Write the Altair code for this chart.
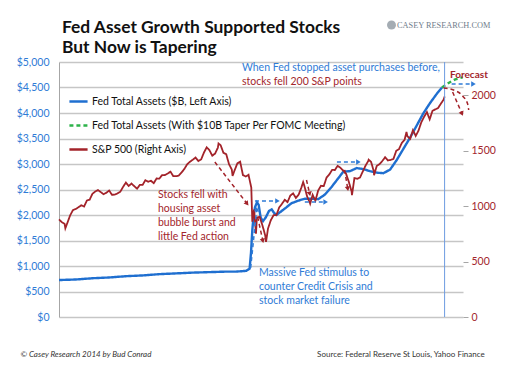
import math
import altair as alt
import pandas as pd

FONT = "Lato"

# ---------------- S&P 500 (right axis), monthly closes + notable extremes ----------------
sp_2003 = [855.7, 841.2, 848.2, 916.9, 963.6, 974.5, 990.3, 1008.0, 996.0, 1050.7, 1058.2, 1111.9]
sp_2004 = [1131.1, 1144.9, 1126.2, 1107.3, 1120.7, 1140.8, 1101.7, 1104.2, 1114.6, 1130.2, 1173.8, 1211.9]
sp_2005 = [1181.3, 1203.6, 1180.6, 1156.9, 1191.5, 1191.3, 1234.2, 1220.3, 1228.8, 1207.0, 1249.5, 1248.3]
sp_2006 = [1280.1, 1280.7, 1294.8, 1310.6, 1270.1, 1270.2, 1276.7, 1303.8, 1335.9, 1377.9, 1400.6, 1418.3]
sp_2007 = [1438.2, 1406.8, 1420.9, 1482.4, 1530.6, 1503.4, 1455.3, 1474.0, 1526.8, 1549.4, 1481.1, 1468.4]
sp_2008 = [1378.6, 1330.6, 1322.7, 1385.6, 1400.4, 1280.0, 1267.4, 1282.8, 1166.4, 968.8, 896.2, 903.3]
sp_2009 = [825.9, 735.1, 797.9, 872.8, 919.1, 919.3, 987.5, 1020.6, 1057.1, 1036.2, 1095.6, 1115.1]
sp_2010 = [1073.9, 1104.5, 1169.4, 1186.7, 1089.4, 1030.7, 1101.6, 1049.3, 1141.2, 1183.3, 1180.6, 1257.6]
sp_2011 = [1286.1, 1327.2, 1325.8, 1363.6, 1345.2, 1320.6, 1292.3, 1219.0, 1131.4, 1253.3, 1247.0, 1257.6]
sp_2012 = [1312.4, 1365.7, 1408.5, 1397.9, 1310.3, 1362.2, 1379.3, 1406.6, 1440.7, 1412.2, 1416.2, 1426.2]
sp_2013 = [1498.1, 1514.7, 1569.2, 1597.6, 1630.7, 1606.3, 1685.7, 1633.0, 1681.6, 1756.5, 1805.8, 1848.4]
sp_2014 = [1782.6, 1859.5, 1872.3, 1884.0, 1923.6, 1960.2]
sp_by_year = [sp_2003, sp_2004, sp_2005, sp_2006, sp_2007, sp_2008,
              sp_2009, sp_2010, sp_2011, sp_2012, sp_2013, sp_2014]
sp_extra_dates = [2003.0, 2003.19, 2007.77, 2008.19, 2008.78, 2008.89, 2009.19,
                  2010.30, 2010.51, 2011.33, 2011.76, 2012.26, 2012.42, 2013.39, 2014.53]
sp_extra_values = [880, 800, 1565, 1273, 860, 752, 677,
                   1217, 1022, 1363, 1099, 1419, 1278, 1669, 1988]

# ---------------- Fed total assets ($B, left axis) ----------------
fed_dates = [2003.0, 2003.5, 2004.0, 2004.5, 2005.0, 2005.5, 2006.0, 2006.5, 2007.0, 2007.5,
             2008.0, 2008.3, 2008.6, 2008.70, 2008.74, 2008.78, 2008.82, 2008.86, 2008.92,
             2008.97, 2009.03, 2009.1, 2009.18, 2009.28, 2009.36, 2009.42, 2009.5, 2009.62,
             2009.8, 2009.95, 2010.15, 2010.35, 2010.55, 2010.75, 2010.95, 2011.15, 2011.35,
             2011.5, 2011.7, 2011.9, 2012.1, 2012.3, 2012.5, 2012.7, 2012.9, 2013.1, 2013.3,
             2013.5, 2013.7, 2013.9, 2014.1, 2014.3, 2014.45]
fed_values = [725, 735, 760, 775, 800, 815, 840, 855, 870, 880,
              890, 890, 905, 950, 1250, 1700, 2000, 2150, 2250,
              2200, 1950, 1880, 1950, 2080, 2110, 2050, 2000, 2060,
              2150, 2230, 2280, 2320, 2320, 2310, 2400, 2550, 2720,
              2850, 2860, 2920, 2900, 2860, 2830, 2820, 2890, 3080, 3300,
              3520, 3760, 4000, 4200, 4380, 4500]

# Forecast with $10B taper per FOMC meeting
fc_dates = [2014.45, 2014.65, 2014.85, 2015.07]
fc_values = [4500, 4590, 4660, 4700]

series_names = ["Fed Total Assets ($B, Left Axis)",
                "Fed Total Assets (With $10B Taper Per FOMC Meeting)",
                "S&P 500 (Right Axis)"]
series_colors = ["#1f6fd0", "#2db34a", "#a3232a"]
series_dashes = [[1, 0], [4, 3], [1, 0]]

# Annotation arrows (blue: left-axis units, red: right-axis units)
blue_arrows = [
    [(2008.86, 2275), (2009.51, 2275)],
    [(2008.73, 961), (2008.91, 2098)],
    [(2010.35, 2255), (2010.95, 2255)],
    [(2011.31, 3039), (2011.93, 3039)],
    [(2014.74, 4569), (2015.37, 4569)],
]
red_arrows = [
    [(2007.66, 1398), (2008.61, 1028)],
    [(2008.94, 902), (2009.09, 694)],
    [(2010.40, 1236), (2010.49, 1118)],
    [(2011.54, 1326), (2011.63, 1163)],
    [(2014.77, 2029), (2015.04, 1840)],
]
red_arc = [(2014.50, 2065), (2014.80, 2047), (2015.07, 1993), (2015.22, 1921), (2015.25, 1867)]

# Annotation texts (left-axis units)
blue_notes = [("When Fed stopped asset purchases before,", 2008.47, 4876),
              ("Massive Fed stimulus to", 2008.98, 869),
              ("counter Credit Crisis and", 2008.98, 582),
              ("stock market failure", 2008.98, 320)]
red_notes = [("stocks fell 200 S&P points", 2008.47, 4614),
             ("Stocks fell with", 2005.96, 2392),
             ("housing asset", 2005.96, 2112),
             ("bubble burst and", 2005.96, 1849),
             ("little Fed action", 2005.96, 1575)]

x_ticks = list(range(2003, 2016))
left_ticks = list(range(0, 5001, 500))
right_ticks = [0, 500, 1000, 1500, 2000]

# ---------------- geometry ----------------
W, H = 404, 255
X_DOM = [2003, 2015.08]
L_DOM = [0, 5000]
R_DOM = [0, 2300]
BLUE_TXT = "#2f7bd6"
RED_TXT = "#a3262c"

xs = alt.Scale(domain=X_DOM, nice=False, zero=False)
ls = alt.Scale(domain=L_DOM, nice=False, zero=False)
rs = alt.Scale(domain=R_DOM, nice=False, zero=False)

# ---------------- tables ----------------
sp_rows = []
for yr, vals in zip(range(2003, 2015), sp_by_year):
    for m, v in enumerate(vals):
        sp_rows.append((yr + (m + 1) / 12, v))
sp_rows += list(zip(sp_extra_dates, sp_extra_values))
sp_rows.sort()
sp_df = pd.DataFrame(sp_rows, columns=["x", "v"])
sp_df["series"] = series_names[2]

fed_df = pd.DataFrame({"x": fed_dates, "v": fed_values, "series": series_names[0]})
fc_df = pd.DataFrame({"x": fc_dates, "v": fc_values, "series": series_names[1]})
left_df = pd.concat([fed_df, fc_df], ignore_index=True)


def arrow_tables(arrows, ydom):
    seg, heads = [], []
    for i, pts in enumerate(arrows):
        for j, (x, v) in enumerate(pts):
            seg.append({"id": i, "seq": j, "x": x, "v": v})
        (x1, v1), (x2, v2) = pts[-2], pts[-1]
        dx = (x2 - x1) * W / (X_DOM[1] - X_DOM[0])
        dy = -(v2 - v1) * H / (ydom[1] - ydom[0])
        ang = math.degrees(math.atan2(dx, -dy)) % 360
        heads.append({"x": x2, "v": v2, "ang": ang})
    return pd.DataFrame(seg), pd.DataFrame(heads)


blue_seg, blue_heads = arrow_tables(blue_arrows, L_DOM)
red_seg, red_heads = arrow_tables(red_arrows, R_DOM)
arc_df = pd.DataFrame([{"seq": j, "x": x, "v": v} for j, (x, v) in enumerate(red_arc)])

legend = alt.Legend(orient="none", legendX=9, legendY=29, title=None,
                    symbolType="stroke", symbolSize=330, symbolStrokeWidth=2.5,
                    labelFont=FONT, labelFontSize=10.5, labelColor="#111111",
                    labelLimit=500, rowPadding=8, labelOffset=3, padding=0)
color_enc = alt.Color("series:N", scale=alt.Scale(domain=series_names, range=series_colors),
                      legend=legend)
dash_enc = alt.StrokeDash("series:N", scale=alt.Scale(domain=series_names, range=series_dashes),
                          legend=legend)

x_enc = alt.X("x:Q", scale=xs, title=None,
              axis=alt.Axis(values=x_ticks, format="d", grid=False, domainColor="#a6a6a6",
                            tickColor="#a6a6a6", tickSize=4, labelColor="#333333",
                            labelFont=FONT, labelFontSize=10.5, labelPadding=3,
                            labelFlush=False))
x_plain = alt.X("x:Q", scale=xs, axis=None)

fed_layer = alt.Chart(left_df).mark_line(strokeWidth=2.4).encode(
    x=x_enc,
    y=alt.Y("v:Q", scale=ls, title=None,
            axis=alt.Axis(values=left_ticks, format="$,.0f", grid=True, gridColor="#c6c6c6",
                          gridWidth=1.3, domainColor="#a6a6a6", ticks=False,
                          labelColor=BLUE_TXT, labelFont=FONT, labelFontSize=10.5,
                          labelPadding=10)),
    color=color_enc, strokeDash=dash_enc, order="x:Q")

sp_layer = alt.Chart(sp_df).mark_line(strokeWidth=1.8).encode(
    x=x_plain,
    y=alt.Y("v:Q", scale=rs, title=None,
            axis=alt.Axis(orient="right", values=right_ticks, format="d", grid=False,
                          domain=False, tickColor="#a6a6a6", tickSize=5, labelColor=RED_TXT,
                          labelFont=FONT, labelFontSize=10.5, labelPadding=3)),
    color=color_enc, strokeDash=dash_enc, order="x:Q")

vline = alt.Chart(pd.DataFrame({"x": [2014.53]})).mark_rule(
    color="#6d9be0", strokeWidth=1).encode(x=x_plain)

blue_arrow_lines = alt.Chart(blue_seg).mark_line(
    color="#2f7bd6", strokeWidth=1.5, strokeDash=[4, 3]).encode(
    x=x_plain, y=alt.Y("v:Q", scale=ls, axis=None), detail="id:N", order="seq:Q")
blue_arrow_heads = alt.Chart(blue_heads).mark_point(
    shape="triangle", filled=True, color="#2f7bd6", size=28, opacity=1).encode(
    x=x_plain, y=alt.Y("v:Q", scale=ls, axis=None), angle=alt.Angle("ang:Q", scale=None))

red_arrow_lines = alt.Chart(red_seg).mark_line(
    color="#a3232a", strokeWidth=1.5, strokeDash=[4, 3]).encode(
    x=x_plain, y=alt.Y("v:Q", scale=rs, axis=None), detail="id:N", order="seq:Q")
red_arrow_heads = alt.Chart(red_heads).mark_point(
    shape="triangle", filled=True, color="#a3232a", size=28, opacity=1).encode(
    x=x_plain, y=alt.Y("v:Q", scale=rs, axis=None), angle=alt.Angle("ang:Q", scale=None))
red_arc_line = alt.Chart(arc_df).mark_line(
    color="#a3232a", strokeWidth=1.5, strokeDash=[4, 3], interpolate="monotone").encode(
    x=x_plain, y=alt.Y("v:Q", scale=rs, axis=None), order="seq:Q")

bn_df = pd.DataFrame(blue_notes, columns=["t", "x", "v"])
rn_df = pd.DataFrame(red_notes, columns=["t", "x", "v"])
blue_text = alt.Chart(bn_df).mark_text(
    align="left", baseline="middle", font=FONT, fontSize=10.5, color=BLUE_TXT).encode(
    x=x_plain, y=alt.Y("v:Q", scale=ls, axis=None), text="t:N")
red_text = alt.Chart(rn_df).mark_text(
    align="left", baseline="middle", font=FONT, fontSize=10.5, color=RED_TXT).encode(
    x=x_plain, y=alt.Y("v:Q", scale=ls, axis=None), text="t:N")
forecast_text = alt.Chart(pd.DataFrame({"t": ["Forecast"], "x": [2014.69], "v": [4745]})).mark_text(
    align="left", baseline="middle", font=FONT, fontSize=10, fontWeight="bold", color=RED_TXT).encode(
    x=x_plain, y=alt.Y("v:Q", scale=ls, axis=None), text="t:N")

one = pd.DataFrame({"a": [0]})


def label(text, x, y, **kw):
    return alt.Chart(one).mark_text(text=text, **kw).encode(x=alt.value(x), y=alt.value(y))


title1 = label("Fed Asset Growth Supported Stocks", 3, -29, align="left", baseline="alphabetic",
               font=FONT, fontSize=17.4, fontWeight="bold", color="#111111")
title2 = label("But Now is Tapering", 3, -9, align="left", baseline="alphabetic",
               font=FONT, fontSize=17.4, fontWeight="bold", color="#111111")
logo_icon = alt.Chart(one).mark_point(shape="circle", filled=True, color="#9aa3ab", size=80,
                                      opacity=0.9).encode(x=alt.value(332.5), y=alt.value(-37))
logo = label("CASEY RESEARCH.COM", 338, -34, align="left", baseline="alphabetic",
             font="Liberation Serif", fontSize=8.3, color="#6f7c8a")
foot_l = label("© Casey Research 2014 by Bud Conrad", -38.6, 293, align="left", baseline="middle",
               font=FONT, fontSize=8, fontStyle="italic", color="#333333")
foot_r = label("Source: Federal Reserve St Louis, Yahoo Finance", 425.7, 293, align="right",
               baseline="middle", font=FONT, fontSize=8, color="#333333")

chart = alt.layer(
    fed_layer, sp_layer, vline,
    blue_arrow_lines, blue_arrow_heads, red_arrow_lines, red_arrow_heads, red_arc_line,
    blue_text, red_text, forecast_text,
    title1, title2, logo_icon, logo, foot_l, foot_r,
).resolve_scale(y="independent").properties(
    width=W, height=H,
    padding={"left": 51, "top": 54, "right": 42, "bottom": 53},
    autosize=alt.AutoSizeParams(type="none"),
    background="white",
).configure_view(stroke=None)

chart.save("out.html", embed_options={"renderer": "svg", "actions": False})
